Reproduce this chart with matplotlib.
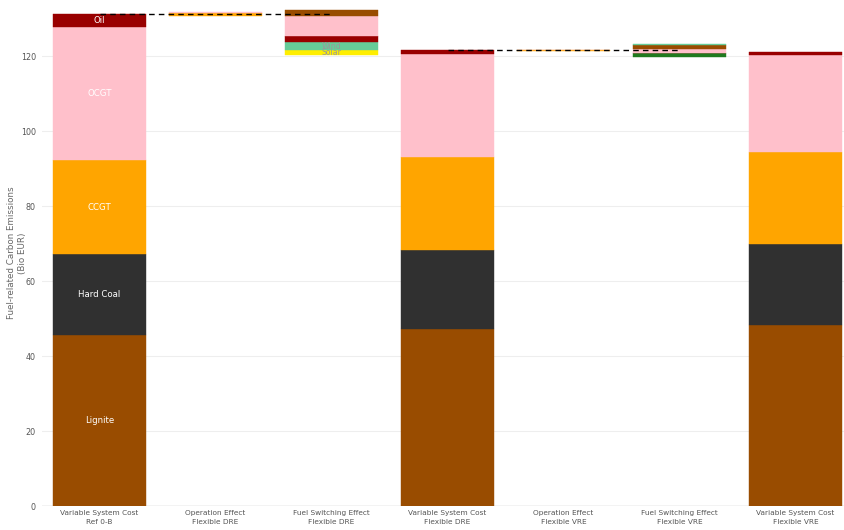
import matplotlib
matplotlib.use('Agg')
import matplotlib.pyplot as plt

# ── data ──────────────────────────────────────────────────────────
categories = ['Variable System Cost\nRef 0-B', 'Operation Effect\nFlexible DRE',
              'Fuel Switching Effect\nFlexible DRE', 'Variable System Cost\nFlexible DRE',
              'Operation Effect\nFlexible VRE', 'Fuel Switching Effect\nFlexible VRE',
              'Variable System Cost\nFlexible VRE']

# totals (stacked from zero), at category index 0, 3, 6
total_idx = [0, 3, 6]
fuels = ['Lignite', 'Hard Coal', 'CCGT', 'OCGT', 'Oil']
lignite = [45.5, 47.2, 48.4]
hard_coal = [21.7, 21.1, 21.4]
ccgt = [25.1, 24.8, 24.6]
ocgt = [35.4, 27.4, 25.9]
oil = [3.5, 1.1, 0.8]
total_vals = {'Lignite': lignite, 'Hard Coal': hard_coal, 'CCGT': ccgt, 'OCGT': ocgt, 'Oil': oil}

# effect bars: (category index, fuel, lower, upper)
effects = [
    (1, 'CCGT', 130.7, 131.5),
    (1, 'OCGT', 131.5, 131.8),
    (2, 'Solar', 120.3, 121.6),
    (2, 'Wind', 121.6, 123.8),
    (2, 'Oil', 123.8, 125.4),
    (2, 'OCGT', 125.4, 130.7),
    (2, 'Lignite', 130.7, 132.4),
    (4, 'CCGT', 121.4, 121.55),
    (4, 'OCGT', 121.55, 121.75),
    (5, 'Biomass', 119.9, 120.8),
    (5, 'Oil', 120.8, 120.95),
    (5, 'OCGT', 120.95, 121.9),
    (5, 'Lignite', 121.9, 122.9),
    (5, 'Wind', 122.9, 123.2),
]
labelled = {2: ['Wind', 'Solar']}

colors = {'Lignite': '#994c00', 'Hard Coal': '#303030', 'CCGT': '#ffa500',
          'OCGT': '#ffc0cb', 'Oil': '#990000', 'Wind': '#66cc99',
          'Solar': '#ffee00', 'Biomass': '#1f7a1f'}

# ── plot ──────────────────────────────────────────────────────────
fig = plt.figure(figsize=(8.44, 5.30), dpi=100)
ax = fig.add_axes([41.5 / 844, 24 / 530, 802.5 / 844, 506 / 530])
W = 0.8

bottoms = [0.0] * len(total_idx)
for f in fuels:
    vals = total_vals[f]
    ax.bar(total_idx, vals, W, bottom=bottoms, color=colors[f], zorder=2,
           edgecolor=colors[f], linewidth=0.3)
    # labels on first bar only
    ax.text(total_idx[0], bottoms[0] + vals[0] / 2, f, color='white',
            ha='center', va='center', fontsize=6.2, zorder=4)
    bottoms = [b + v for b, v in zip(bottoms, vals)]
totals = bottoms

for i, f, lo, hi in effects:
    ax.bar(i, hi - lo, W, bottom=lo, color=colors[f], zorder=2,
           edgecolor=colors[f], linewidth=0.3)
    if f in labelled.get(i, []):
        ax.text(i, (lo + hi) / 2, f, color='#999999', ha='center', va='center',
                fontsize=5.6, zorder=4)

# connector lines between totals
for k in range(len(total_idx) - 1):
    ax.plot([total_idx[k], total_idx[k] + 2], [totals[k], totals[k]],
            color='black', ls=(0, (4, 3)), lw=1.0, zorder=3)

ax.set_xlim(-0.5, 6.418)
ax.set_ylim(0, 135)
ax.set_yticks(range(0, 121, 20))
ax.set_xticks(range(len(categories)))
ax.set_xticklabels(categories, fontsize=5.3, color='#555555', linespacing=1.5)
ax.tick_params(axis='y', labelsize=5.8, labelcolor='#555555', length=0, pad=4)
ax.tick_params(axis='x', length=0, pad=3)
ax.grid(axis='y', color='#eeeeee', lw=0.8, zorder=0)
ax.axhline(0, color='#444444', lw=0.8, zorder=1)
for s in ax.spines.values():
    s.set_visible(False)

fig.text(17 / 844, 1 - 253 / 530, 'Fuel-related Carbon Emissions\n(Bio EUR)',
         rotation=90, ha='center', va='center', fontsize=6.3, color='#666666')

fig.savefig('out.png', dpi=100, facecolor='white')
